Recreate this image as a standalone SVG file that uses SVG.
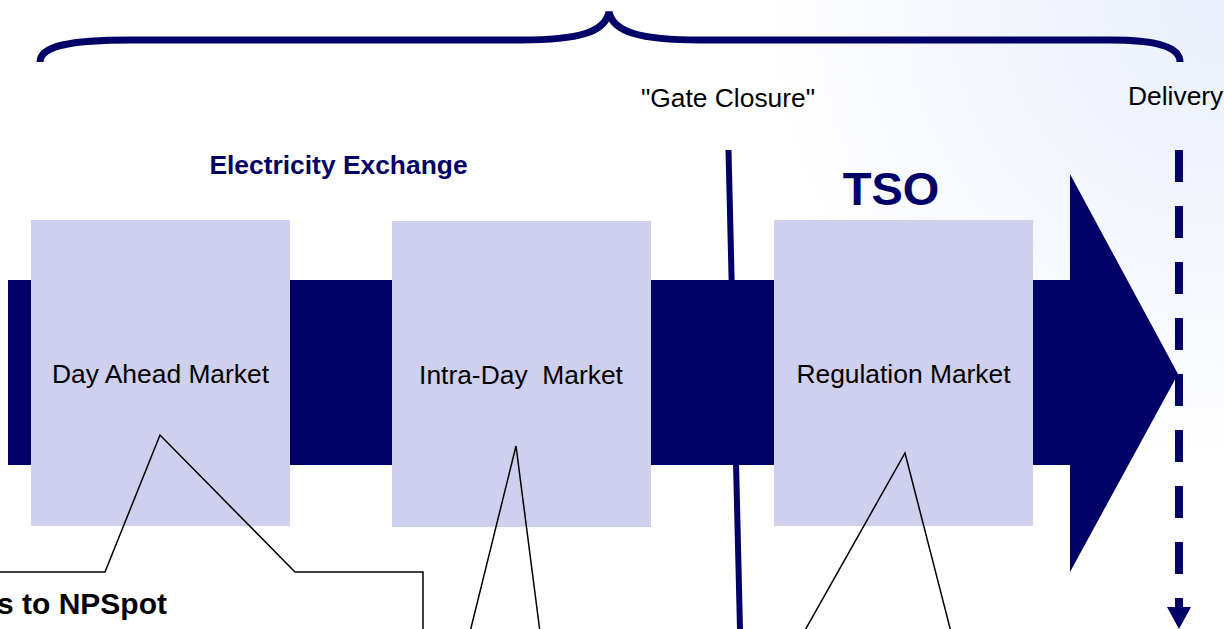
<svg xmlns="http://www.w3.org/2000/svg" width="1224" height="629" viewBox="0 0 1224 629">
<style>
  .navy { fill: #000066; }
  .box { fill: #CFCFEE; }
  .lbl { font-family: "Liberation Sans", Arial, sans-serif; font-size: 26.4px; fill: #000000; text-anchor: middle; white-space: pre; }
  .bold { font-family: "Liberation Sans", Arial, sans-serif; font-weight: bold; fill: #000066; text-anchor: middle; }
  .callout { fill: none; stroke: #000000; stroke-width: 1.5; stroke-linejoin: miter; }
</style>
<defs>
  <radialGradient id="bg" cx="1224" cy="0" r="480" gradientUnits="userSpaceOnUse">
    <stop offset="0" stop-color="#EAEFFB"/>
    <stop offset="0.55" stop-color="#F5F7FD"/>
    <stop offset="1" stop-color="#FFFFFF"/>
  </radialGradient>
  <marker id="ahead" markerUnits="userSpaceOnUse" markerWidth="24" markerHeight="24" refX="12" refY="0" orient="0" viewBox="0 0 24 24">
    <path d="M0,0 L24,0 L12,22 Z" fill="#000066"/>
  </marker>
</defs>
<rect x="0" y="0" width="1224" height="629" fill="url(#bg)"/>

<g id="brace">
  <path d="M 40 62 C 40 46, 70 40, 130 40 L 520 40 C 580 40, 605 32, 609 12 C 613 32, 640 40, 700 40 L 1110 40 C 1160 40, 1180 48, 1180 62" fill="none" stroke="#000066" stroke-width="7"/>
</g>

<g id="labels">
  <text class="lbl" x="728" y="107">"Gate Closure"</text>
  <text class="lbl" x="1128" y="105" style="text-anchor:start">Delivery</text>
  <text class="bold" x="338.5" y="174" font-size="26.4">Electricity Exchange</text>
  <text class="bold" x="891" y="205" font-size="47">TSO</text>
</g>

<g id="timeline-arrow">
  <polygon class="navy" points="8,280 1070,280 1070,174 1178,374 1070,572 1070,465 8,465"/>
</g>

<g id="day-ahead-market">
  <rect class="box" x="31" y="220" width="259" height="306"/>
  <text class="lbl" x="160.5" y="383">Day Ahead Market</text>
</g>
<g id="intra-day-market">
  <rect class="box" x="392" y="221" width="259" height="306"/>
  <text class="lbl" x="521" y="384">Intra-Day  Market</text>
</g>
<g id="regulation-market">
  <rect class="box" x="774" y="220" width="259" height="306"/>
  <text class="lbl" x="903.5" y="383">Regulation Market</text>
</g>

<g id="connectors">
  <line id="gate-closure-line" x1="728.5" y1="150" x2="740" y2="629" stroke="#000066" stroke-width="6"/>
  <line id="delivery-line" x1="1179" y1="150" x2="1179" y2="607" stroke="#000066" stroke-width="8" stroke-dasharray="32 24" marker-end="url(#ahead)"/>
  <polyline class="callout" points="-5,572 105,572 160,435 295,572 423,572 423,632"/>
  <polyline class="callout" points="470,632 516,446 540,632"/>
  <polyline class="callout" points="804,632 905,453 951,632"/>
</g>

<g id="callout-npspot">
  <text x="167" y="614" font-family="Liberation Sans, Arial, sans-serif" font-weight="bold" font-size="30" fill="#000000" text-anchor="end">s to NPSpot</text>
</g>
</svg>
